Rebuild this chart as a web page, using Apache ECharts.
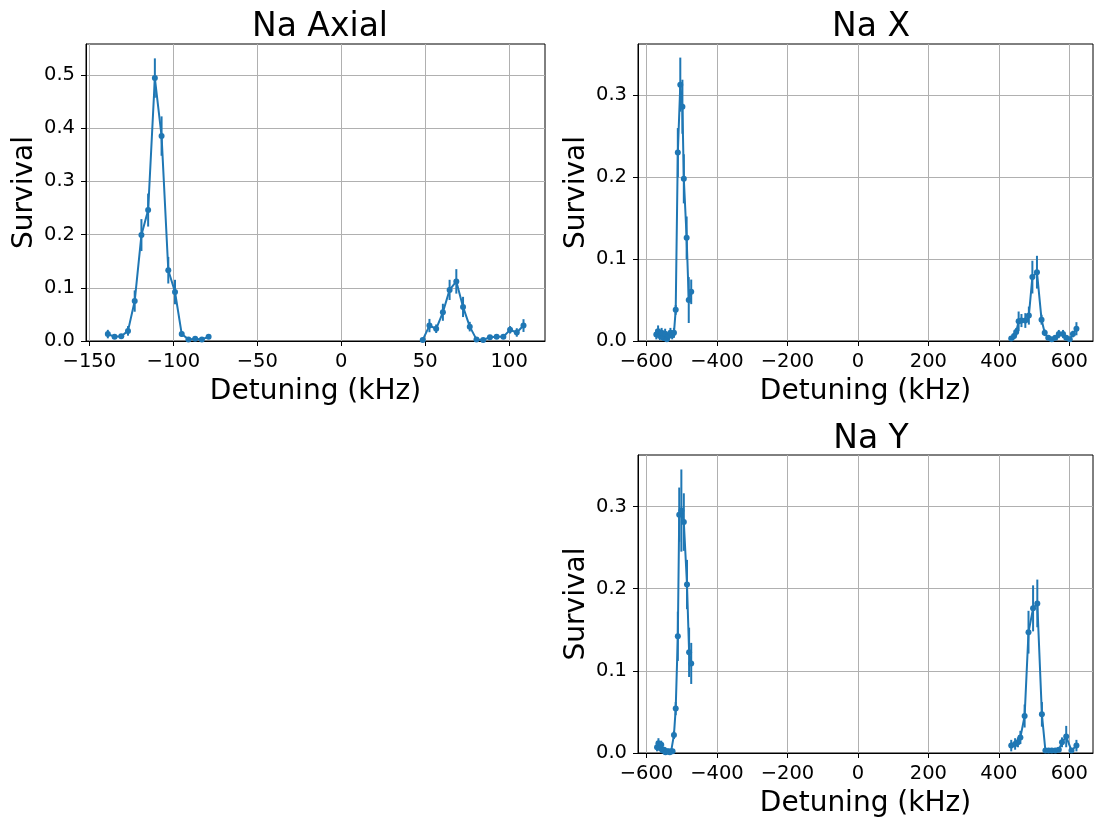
<!DOCTYPE html>
<html>
<head>
<meta charset="utf-8">
<script src="https://cdn.jsdelivr.net/npm/echarts@6/dist/echarts.min.js"></script>
<style>html,body{margin:0;padding:0;background:#fff}#main{width:1106px;height:826px}</style>
</head>
<body>
<div id="main"></div>
<script>
// Na Axial
var axialLeftX = [-139, -135, -131, -127, -123, -119, -115, -111, -107, -103, -99, -95, -91, -87, -83, -79];
var axialLeftY = [0.013, 0.008, 0.009, 0.019, 0.075, 0.199, 0.246, 0.494, 0.385, 0.133, 0.092, 0.013, 0.003, 0.004, 0.003, 0.008];
var axialLeftErr = [0.008, 0.004, 0.004, 0.009, 0.02, 0.03, 0.031, 0.037, 0.037, 0.025, 0.023, 0.005, 0.003, 0.003, 0.003, 0.004];
var axialRightX = [48.5, 52.5, 56.5, 60.5, 64.5, 68.5, 72.5, 76.5, 80.5, 84.5, 88.5, 92.5, 96.5, 100.5, 104.5, 108.5];
var axialRightY = [0.002, 0.029, 0.023, 0.054, 0.096, 0.112, 0.064, 0.027, 0.003, 0.002, 0.007, 0.008, 0.008, 0.021, 0.016, 0.029];
var axialRightErr = [0.003, 0.0125, 0.008, 0.016, 0.019, 0.023, 0.019, 0.009, 0.003, 0.002, 0.004, 0.004, 0.004, 0.007, 0.008, 0.012];

// Na X
var xLeftX = [-572, -567, -562, -557, -552, -547, -542, -537, -532, -527, -522, -517, -511, -504, -498, -494, -486, -480, -473];
var xLeftY = [0.008, 0.012, 0.006, 0.01, 0.004, 0.009, 0.002, 0.006, 0.01, 0.007, 0.01, 0.038, 0.23, 0.313, 0.286, 0.198, 0.126, 0.05, 0.06];
var xLeftErr = [0.006, 0.007, 0.005, 0.006, 0.004, 0.006, 0.003, 0.005, 0.006, 0.005, 0.006, 0.006, 0.03, 0.033, 0.033, 0.03, 0.026, 0.028, 0.015];
var xRightX = [435, 443, 449, 456, 464, 475, 485, 495, 508, 521, 530, 540, 550, 560, 570, 582, 591, 601, 610, 620];
var xRightY = [0.003, 0.006, 0.011, 0.024, 0.025, 0.025, 0.031, 0.078, 0.084, 0.026, 0.01, 0.004, 0.002, 0.004, 0.0085, 0.0085, 0.004, 0.002, 0.0085, 0.015];
var xRightErr = [0.003, 0.004, 0.005, 0.012, 0.008, 0.009, 0.011, 0.02, 0.02, 0.006, 0.004, 0.003, 0.002, 0.003, 0.005, 0.005, 0.003, 0.002, 0.004, 0.008];

// Na Y
var yLeftX = [-570, -566, -562, -558, -554, -550, -546, -542, -538, -534, -530, -526, -522, -517, -511, -507, -501, -494, -485, -479, -473];
var yLeftY = [0.007, 0.012, 0.006, 0.01, 0.003, 0.004, 0.001, 0.002, 0.002, 0.001, 0.002, 0.002, 0.022, 0.054, 0.142, 0.29, 0.295, 0.281, 0.205, 0.1225, 0.109];
var yLeftErr = [0.005, 0.006, 0.004, 0.005, 0.003, 0.003, 0.002, 0.002, 0.002, 0.002, 0.002, 0.002, 0.005, 0.008, 0.03, 0.033, 0.05, 0.035, 0.03, 0.03, 0.025];
var yRightX = [435, 446, 454, 461, 473, 484, 497, 509, 522, 532, 541, 550, 560, 570, 579, 591, 606, 620];
var yRightY = [0.009, 0.011, 0.013, 0.019, 0.045, 0.147, 0.176, 0.182, 0.047, 0.003, 0.003, 0.003, 0.003, 0.004, 0.013, 0.02, 0.003, 0.009];
var yRightErr = [0.007, 0.007, 0.006, 0.008, 0.014, 0.026, 0.028, 0.029, 0.015, 0.003, 0.003, 0.003, 0.003, 0.003, 0.006, 0.013, 0.003, 0.007];

var axialTicks = [-150, -100, -50, 0, 50, 100];
var wideTicks = [-600, -400, -200, 0, 200, 400, 600];
var axialYTicks = [0, 0.1, 0.2, 0.3, 0.4, 0.5];
var wideYTicks = [0, 0.1, 0.2, 0.3];

(function () {
  var blue = '#1f77b4';
  var font = 'DejaVu Sans';
  var chart = echarts.init(document.getElementById('main'), null, { renderer: 'canvas' });

  function pts(xs, ys) { return xs.map(function (x, i) { return [x, ys[i]]; }); }
  function bars(xs, ys, es) { return xs.map(function (x, i) { return [x, Math.max(0, ys[i] - es[i]), ys[i] + es[i]]; }); }

  // 误差棒：竖线，无端帽
  function renderBar(params, api) {
    var a = api.coord([api.value(0), api.value(1)]);
    var b = api.coord([api.value(0), api.value(2)]);
    return { type: 'line', shape: { x1: a[0], y1: a[1], x2: b[0], y2: b[1] }, style: { stroke: blue, lineWidth: 2 } };
  }

  function minus(v) { return String(v).replace('-', '\u2212'); }

  function xAxis(idx, min, max, ticks) {
    return {
      type: 'value', gridIndex: idx, min: min, max: max,
      name: 'Detuning (kHz)', nameLocation: 'middle', nameGap: 37,
      nameTextStyle: { fontSize: 28, color: '#000', fontFamily: font },
      axisLine: { show: true, onZero: false, lineStyle: { color: '#000', width: 1 } },
      axisTick: { show: true, length: 5, customValues: ticks, lineStyle: { color: '#000', width: 1 } },
      axisLabel: { customValues: ticks, fontSize: 19.5, color: '#000', fontFamily: font, margin: 11, formatter: minus },
      splitLine: { show: true, lineStyle: { color: '#b0b0b0', width: 1 } }
    };
  }
  function yAxis(idx, max, ticks) {
    return {
      type: 'value', gridIndex: idx, min: 0, max: max,
      name: 'Survival', nameLocation: 'middle', nameGap: 47, nameRotate: 90,
      nameTextStyle: { fontSize: 28, color: '#000', fontFamily: font },
      axisLine: { show: true, onZero: false, lineStyle: { color: '#000', width: 1 } },
      axisTick: { show: true, length: 5, customValues: ticks, lineStyle: { color: '#000', width: 1 } },
      axisLabel: { customValues: ticks, fontSize: 19.5, color: '#000', fontFamily: font, margin: 11, formatter: function (v) { return v.toFixed(1); } },
      splitLine: { show: true, lineStyle: { color: '#b0b0b0', width: 1 } }
    };
  }
  function lineSeries(idx, xs, ys) {
    return { type: 'line', xAxisIndex: idx, yAxisIndex: idx, data: pts(xs, ys), symbol: 'circle', symbolSize: 6,
      showAllSymbol: true, itemStyle: { color: blue }, lineStyle: { color: blue, width: 2 }, z: 3 };
  }
  function barSeries(idx, xs, ys, es) {
    return { type: 'custom', xAxisIndex: idx, yAxisIndex: idx, data: bars(xs, ys, es), renderItem: renderBar,
      encode: { x: 0, y: [1, 2] }, z: 2 };
  }

  var gridStyle = { show: true, borderColor: '#000', borderWidth: 1, backgroundColor: 'transparent' };
  chart.setOption({
    animation: false,
    backgroundColor: '#fff',
    title: [
      { text: 'Na Axial', left: 315, top: 6, textAlign: 'center', textStyle: { fontSize: 33, fontWeight: 'normal', color: '#000', fontFamily: font } },
      { text: 'Na X', left: 866, top: 6, textAlign: 'center', textStyle: { fontSize: 33, fontWeight: 'normal', color: '#000', fontFamily: font } },
      { text: 'Na Y', left: 866, top: 418, textAlign: 'center', textStyle: { fontSize: 33, fontWeight: 'normal', color: '#000', fontFamily: font } }
    ],
    grid: [
      Object.assign({ left: 86, top: 44, width: 459, height: 297 }, gridStyle),
      Object.assign({ left: 638, top: 44, width: 455, height: 297 }, gridStyle),
      Object.assign({ left: 638, top: 455, width: 455, height: 298 }, gridStyle)
    ],
    xAxis: [xAxis(0, -152, 121.3, axialTicks), xAxis(1, -624, 667, wideTicks), xAxis(2, -624, 667, wideTicks)],
    yAxis: [yAxis(0, 0.558, axialYTicks), yAxis(1, 0.3626, wideYTicks), yAxis(2, 0.3626, wideYTicks)],
    series: [
      barSeries(0, axialLeftX, axialLeftY, axialLeftErr), lineSeries(0, axialLeftX, axialLeftY),
      barSeries(0, axialRightX, axialRightY, axialRightErr), lineSeries(0, axialRightX, axialRightY),
      barSeries(1, xLeftX, xLeftY, xLeftErr), lineSeries(1, xLeftX, xLeftY),
      barSeries(1, xRightX, xRightY, xRightErr), lineSeries(1, xRightX, xRightY),
      barSeries(2, yLeftX, yLeftY, yLeftErr), lineSeries(2, yLeftX, yLeftY),
      barSeries(2, yRightX, yRightY, yRightErr), lineSeries(2, yRightX, yRightY)
    ]
  });
})();
</script>
</body>
</html>
